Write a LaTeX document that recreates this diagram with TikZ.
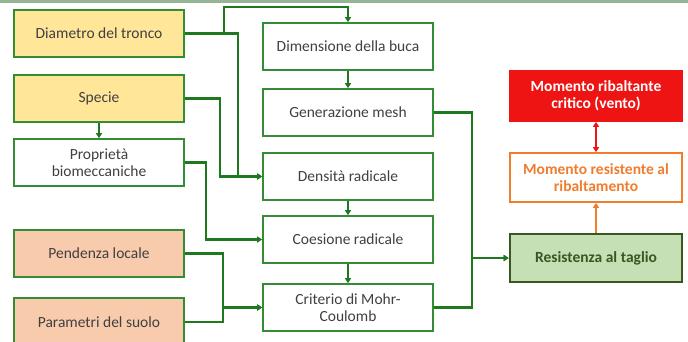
\documentclass[tikz,border=0pt]{standalone}
\usepackage{fontspec}
\setmainfont{Carlito}
\usetikzlibrary{arrows.meta}

\definecolor{boxgreen}{RGB}{52,140,52}
\definecolor{linkgreen}{RGB}{30,120,30}
\definecolor{darkgreen}{RGB}{56,87,35}
\definecolor{textgray}{RGB}{64,64,64}
\definecolor{treeyellow}{RGB}{255,230,153}
\definecolor{soilpink}{RGB}{248,203,173}
\definecolor{shearfill}{RGB}{197,224,180}
\definecolor{critred}{RGB}{238,20,20}
\definecolor{resorange}{RGB}{240,125,45}
\definecolor{topbar}{RGB}{150,180,150}

\tikzset{
  box/.style={draw=boxgreen, line width=1.6pt, fill=white, minimum width=170pt,
    minimum height=47pt, inner sep=2pt, align=center, text=textgray,
    font=\fontsize{15.5}{17}\selectfont},
  treebox/.style={box, fill=treeyellow},
  soilbox/.style={box, fill=soilpink},
  link/.style={draw=linkgreen, line width=2.2pt, -{Triangle[length=5pt,width=6pt]}},
}

\begin{document}
\begin{tikzpicture}[x=1pt,y=-1pt]
    \useasboundingbox (0,0) rectangle (688,341);
    \fill[topbar] (0,0) rectangle (688,2.5);
    % left column: inputs
    \node[treebox] (diam) at (99,33.5) {Diametro del tronco};
    \node[treebox] (specie) at (99,98.5) {Specie};
    \node[box] (prop) at (99,162.5) {Proprietà\\biomeccaniche};
    \node[soilbox] (pend) at (99,253.5) {Pendenza locale};
    \node[soilbox, minimum height=48pt] (param) at (99,322) {Parametri del suolo};
    % middle column
    \node[box] (dim) at (348,46.5) {Dimensione della buca};
    \node[box] (gen) at (348,112.5) {Generazione mesh};
    \node[box] (dens) at (348,176.5) {Densità radicale};
    \node[box] (coes) at (348,239.5) {Coesione radicale};
    \node[box] (crit) at (348,307.5) {Criterio di Mohr-\\Coulomb};
    % right column
    \node[box, draw=critred, fill=critred, text=white, font=\fontsize{15.5}{17}\selectfont\bfseries,
      minimum width=172pt, minimum height=50pt] (ribal) at (596,96) {Momento ribaltante\\critico (vento)};
    \node[box, draw=resorange, text=resorange, font=\fontsize{15.5}{17}\selectfont\bfseries,
      minimum width=172pt, minimum height=49pt] (resist) at (596,177.5) {Momento resistente al\\ribaltamento};
    \node[box, draw=darkgreen, line width=2.6pt, fill=shearfill, text=darkgreen,
      font=\fontsize{15.5}{17}\selectfont\bfseries, minimum width=172pt, minimum height=48pt] (taglio) at (596,258) {Resistenza al taglio};

    \coordinate (topbend) at (224,7);
    \coordinate (diamturn) at (238,33.5);
    \coordinate (specieturn) at (220,98.5);
    \coordinate (propturn) at (206,162.5);
    \coordinate (pendturn) at (223,253.5);
    \coordinate (paramturn) at (223,322);
    \coordinate (genturn) at (472,112.5);
    \coordinate (critturn) at (472,307.5);

    \draw[link] (diam.east) -| (topbend) -| (dim.north);
    \draw[link] (diam.east) -- (diamturn) |- (dens.west);
    \draw[link] (specie.east) -- (specieturn) |- (dens.west);
    \draw[link] (specie.south) -- (prop.north);
    \draw[link] (prop.east) -- (propturn) |- (coes.west);
    \draw[link] (pend.east) -- (pendturn) |- (crit.west);
    \draw[link] (param.east) -- (paramturn) |- (crit.west);
    \draw[link] (dim.south) -- (gen.north);
    \draw[link] (dens.south) -- (coes.north);
    \draw[link] (coes.south) -- (crit.north);
    \draw[link] (gen.east) -- (genturn) |- (taglio.west);
    \draw[link] (crit.east) -- (critturn) |- (taglio.west);
    \draw[resorange, line width=2pt, -{Triangle[length=5pt,width=6pt]}] (taglio.north) -- (resist.south);
    \draw[critred, line width=2pt, {Triangle[length=5pt,width=6pt]}-{Triangle[length=5pt,width=6pt]}] (resist.north) -- (ribal.south);
\end{tikzpicture}
\end{document}
